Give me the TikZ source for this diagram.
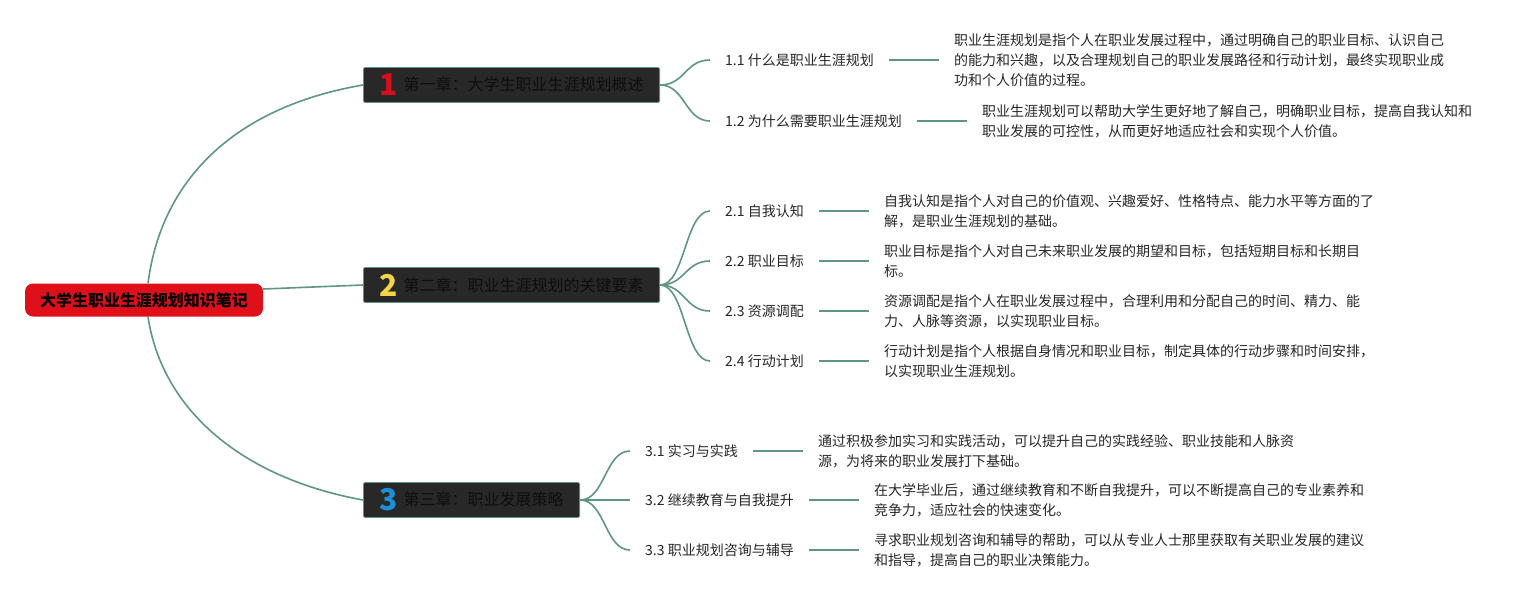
\documentclass[tikz,border=0pt]{standalone}
\usepackage{fontspec}
\setmainfont{Noto Sans CJK SC}
\usetikzlibrary{positioning}
\definecolor{BranchTeal}{HTML}{5E9683}
\definecolor{RootRed}{HTML}{E0101A}
\definecolor{ChapterDark}{HTML}{282828}
\definecolor{ChapterInk}{HTML}{0E0E0E}
\definecolor{NoteInk}{HTML}{262626}
\definecolor{NumRed}{HTML}{D4101E}
\definecolor{NumYellow}{HTML}{F2D446}
\definecolor{NumBlue}{HTML}{1C8FD8}
\newcommand{\chnum}[2]{\raisebox{-5pt}{\fontsize{30}{30}\selectfont\bfseries\color{#1}#2}\hspace{6pt}}

\begin{document}
\begin{tikzpicture}[x=1pt,y=-1pt,
      root/.style={fill=RootRed,rounded corners=8pt,minimum width=238pt,
                   minimum height=33pt,inner sep=0pt,
                   font=\fontsize{16}{18}\selectfont\bfseries,text=black},
      chap/.style={draw=BranchTeal,line width=0.8pt,fill=ChapterDark,
                   rounded corners=1.5pt,minimum height=35pt,inner ysep=0pt,
                   inner xsep=16pt,anchor=west,
                   font=\fontsize{16}{18}\selectfont,text=ChapterInk},
      topic/.style={anchor=west,inner sep=0pt,
                    font=\fontsize{14}{18}\selectfont,text=NoteInk},
      note/.style={inner sep=0pt,align=left,
                   font=\fontsize{14}{20}\selectfont,text=NoteInk},
      link/.style={draw=BranchTeal,line width=1.6pt},
    ]
    \useasboundingbox (0,0) rectangle (1540,600);

    \node[root] (root) at (144,300) {大学生职业生涯规划知识笔记};

    \node[chap] (ch1) at (363,85)  {\chnum{NumRed}{1}第一章：大学生职业生涯规划概述};
    \node[chap] (ch2) at (363,285) {\chnum{NumYellow}{2}第二章：职业生涯规划的关键要素};
    \node[chap] (ch3) at (363,500) {\chnum{NumBlue}{3}第三章：职业发展策略};

    \draw[link] ([xshift=4pt]root.north) .. controls (162,175) and (240,106) .. (ch1.west);
    \draw[link] ([yshift=11pt]root.east) -- (ch2.west);
    \draw[link] ([xshift=4pt]root.south) .. controls (162,410) and (242,478) .. (ch3.west);

    % chapter 1
    \node[topic] (t11) at (725,60)  {1.1 什么是职业生涯规划};
    \node[topic] (t12) at (725,121) {1.2 为什么需要职业生涯规划};
    \node[note,right=80pt of t11] (d11) {职业生涯规划是指个人在职业发展过程中，通过明确自己的职业目标、认识自己\\的能力和兴趣，以及合理规划自己的职业发展路径和行动计划，最终实现职业成\\功和个人价值的过程。};
    \node[note,right=80pt of t12] (d12) {职业生涯规划可以帮助大学生更好地了解自己，明确职业目标，提高自我认知和\\职业发展的可控性，从而更好地适应社会和实现个人价值。};

    % chapter 2
    \node[topic] (t21) at (725,211) {2.1 自我认知};
    \node[topic] (t22) at (725,261) {2.2 职业目标};
    \node[topic] (t23) at (725,311) {2.3 资源调配};
    \node[topic] (t24) at (725,361) {2.4 行动计划};
    \node[note,right=80pt of t21] (d21) {自我认知是指个人对自己的价值观、兴趣爱好、性格特点、能力水平等方面的了\\解，是职业生涯规划的基础。};
    \node[note,right=80pt of t22] (d22) {职业目标是指个人对自己未来职业发展的期望和目标，包括短期目标和长期目\\标。};
    \node[note,right=80pt of t23] (d23) {资源调配是指个人在职业发展过程中，合理利用和分配自己的时间、精力、能\\力、人脉等资源，以实现职业目标。};
    \node[note,right=80pt of t24] (d24) {行动计划是指个人根据自身情况和职业目标，制定具体的行动步骤和时间安排，\\以实现职业生涯规划。};

    % chapter 3
    \node[topic] (t31) at (645,451) {3.1 实习与实践};
    \node[topic] (t32) at (645,500) {3.2 继续教育与自我提升};
    \node[topic] (t33) at (645,550) {3.3 职业规划咨询与辅导};
    \node[note,right=80pt of t31] (d31) {通过积极参加实习和实践活动，可以提升自己的实践经验、职业技能和人脉资\\源，为将来的职业发展打下基础。};
    \node[note,right=80pt of t32] (d32) {在大学毕业后，通过继续教育和不断自我提升，可以不断提高自己的专业素养和\\竞争力，适应社会的快速变化。};
    \node[note,right=80pt of t33] (d33) {寻求职业规划咨询和辅导的帮助，可以从专业人士那里获取有关职业发展的建议\\和指导，提高自己的职业决策能力。};

    \foreach \c/\t in {ch1/t11,ch1/t12,ch2/t21,ch2/t22,ch2/t23,ch2/t24,ch3/t31,ch3/t32,ch3/t33}
      \draw[link] (\c.east) .. controls +(25,0) and +(-25,0) .. ([xshift=-15pt]\t.west);

    \foreach \t/\d in {t11/d11,t12/d12,t21/d21,t22/d22,t23/d23,t24/d24,t31/d31,t32/d32,t33/d33}
      \draw[link] ([xshift=15pt]\t.east) -- ([xshift=-15pt]\d.west);
  \end{tikzpicture}
\end{document}
